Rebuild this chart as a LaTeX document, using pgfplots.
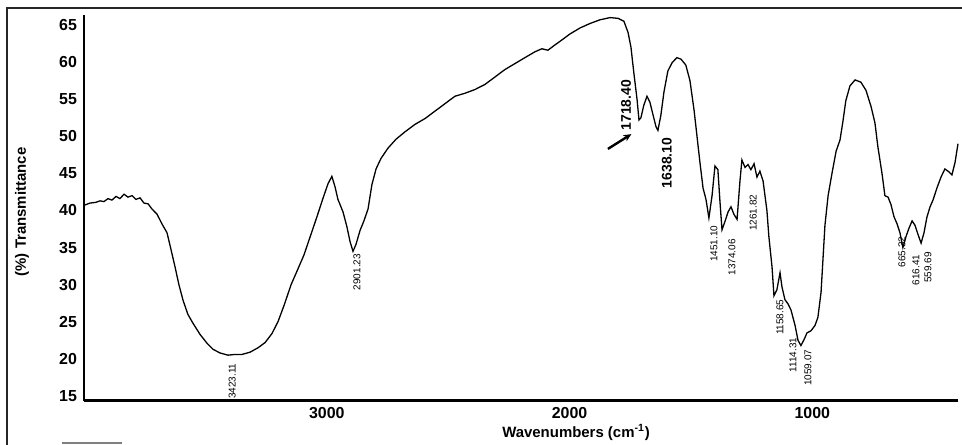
\documentclass[border=0pt]{standalone}
\usepackage{pgfplots}
\pgfplotsset{compat=1.18}
\usepackage{fontspec}
\setmainfont{Liberation Sans}
\usetikzlibrary{arrows.meta}

\begin{document}
\begin{tikzpicture}
\useasboundingbox (0,0) rectangle (481bp,222.5bp);
% scan frame
\draw[line width=0.6bp, black!85] (3.5bp,0) -- (3.5bp,218.5bp) -- (481bp,218.5bp);
\draw[line width=0.6bp, gray] (31bp,1bp) -- (61bp,1bp);
\begin{axis}[
    at={(42bp,22.25bp)}, anchor=south west,
    scale only axis, width=437bp, height=192.75bp,
    xmin=400, xmax=4000, ymin=14.39, ymax=66.35,
    x dir=reverse,
    axis x line*=bottom, axis y line*=left,
    axis line style={line width=1.1bp, -},
    xtick={1000,2000,3000}, ytick={15,20,...,65},
    major tick length=0pt,
    ticklabel style={font=\fontsize{8}{9}\selectfont\bfseries},
    /pgf/number format/assume math mode=true,
    /pgf/number format/1000 sep={},
    xlabel={Wavenumbers (cm\textsuperscript{-1})},
    ylabel={(\%) Transmittance},
    label style={font=\fontsize{7.5}{9}\selectfont\bfseries},
    xlabel style={at={(axis description cs:0.563,0)}, yshift=-15.75bp, anchor=center},
    ylabel style={at={(axis description cs:-0.0709,0.489)}, anchor=center},
    clip=false,
]
\addplot[black, line width=0.65bp] coordinates {
(4000,40.7) (3975,41.0) (3951,41.1) (3934,41.3) (3918,41.2) (3901,41.6)
(3885,41.4) (3868,41.9) (3852,41.6) (3835,42.2) (3819,41.8) (3802,42.0)
(3786,41.5) (3769,41.7) (3753,41.0) (3736,40.9) (3720,40.2) (3699,39.5)
(3679,38.2) (3658,37.0) (3642,34.8) (3625,32.4) (3609,30.0) (3592,27.9)
(3572,26.0) (3551,24.8) (3522,23.3) (3493,22.1) (3469,21.3) (3440,20.8)
(3407,20.5) (3378,20.6) (3349,20.6) (3316,20.9) (3283,21.5) (3254,22.2)
(3226,23.4) (3201,25.0) (3176,27.2) (3147,30.0) (3123,31.8) (3094,34.0)
(3069,36.4) (3040,39.2) (3016,41.6) (2995,43.6) (2979,44.6) (2966,43.2)
(2954,41.5) (2933,39.8) (2917,37.8) (2904,35.8) (2892,34.5) (2880,35.4)
(2863,37.3) (2847,38.6) (2830,40.2) (2814,43.5) (2797,45.6) (2777,47.0)
(2748,48.4) (2715,49.6) (2678,50.6) (2637,51.6) (2595,52.4) (2554,53.4)
(2513,54.4) (2472,55.4) (2431,55.8) (2390,56.3) (2348,57.0) (2307,58.0)
(2266,59.0) (2225,59.8) (2184,60.6) (2142,61.4) (2114,61.8) (2089,61.6)
(2065,62.2) (2031,63.0) (1998,63.8) (1957,64.6) (1916,65.2) (1875,65.7)
(1833,66.0) (1800,65.9) (1776,65.5) (1759,64.0) (1747,62.0) (1735,58.5)
(1722,55.0) (1714,52.2) (1706,52.5) (1694,54.2) (1681,55.4) (1669,54.6)
(1657,53.0) (1644,51.3) (1636,50.8) (1624,52.8) (1611,56.0) (1595,58.8)
(1578,59.9) (1558,60.6) (1541,60.4) (1521,59.6) (1504,57.5) (1487,53.5)
(1475,50.0) (1463,46.5) (1450,43.0) (1438,41.5) (1426,39.0) (1413,42.0)
(1401,46.0) (1389,45.5) (1380,41.0) (1372,37.4) (1360,38.5) (1347,39.8)
(1335,40.5) (1323,39.5) (1310,38.8) (1298,44.0) (1290,46.8) (1277,45.8)
(1265,46.2) (1253,45.5) (1240,46.3) (1228,44.5) (1216,45.3) (1203,44.0)
(1187,40.0) (1179,36.5) (1166,32.4) (1158,28.5) (1146,29.3) (1133,31.6)
(1125,29.7) (1113,28.0) (1100,27.4) (1088,26.6) (1071,24.5) (1059,22.5)
(1047,21.8) (1034,22.6) (1022,23.5) (1005,23.8) (989,24.5) (977,25.6)
(964,29.0) (956,33.5) (948,38.0) (935,42.0) (919,45.0) (902,48.0)
(886,49.5) (874,52.0) (862,54.8) (845,56.8) (824,57.6) (800,57.3)
(779,56.2) (758,54.0) (742,51.8) (730,48.6) (713,45.0) (701,42.0)
(688,41.8) (676,40.8) (664,39.2) (651,38.2) (639,37.0) (627,35.0)
(614,36.5) (602,37.6) (589,38.6) (577,38.0) (565,36.8) (552,35.6)
(540,37.0) (528,39.1) (515,40.5) (503,41.4) (487,43.0) (470,44.5)
(454,45.6) (437,45.2) (425,44.8) (412,46.5) (400,49.0)
};
% peak labels
\begin{scope}[every node/.style={rotate=90, inner sep=0pt, font=\fontsize{5}{6}\selectfont}]
\node at (axis cs:3390,17.0) {3423.11};
\node at (axis cs:2876,31.7) {2901.23};
\node at (axis cs:1405,35.5) {1451.10};
\node at (axis cs:1331,33.7) {1374.06};
\node at (axis cs:1244,39.7) {1261.82};
\node at (axis cs:1133,25.6) {1158.65};
\node at (axis cs:1080,20.5) {1114.31};
\node at (axis cs:1018,18.8) {1059.07};
\node at (axis cs:631,34.4) {665.32};
\node at (axis cs:573,32.0) {616.41};
\node at (axis cs:524,32.3) {559.69};
\node[font=\fontsize{7}{8}\selectfont\bfseries] at (axis cs:1767,54.2) {1718.40};
\node[font=\fontsize{7}{8}\selectfont\bfseries] at (axis cs:1599,46.4) {1638.10};
\end{scope}
\draw[-{Stealth[length=4bp,width=3.5bp]}, line width=1.2bp] (axis cs:1842,48.3) -- (axis cs:1745,50.3);
\end{axis}
\end{tikzpicture}
\end{document}
